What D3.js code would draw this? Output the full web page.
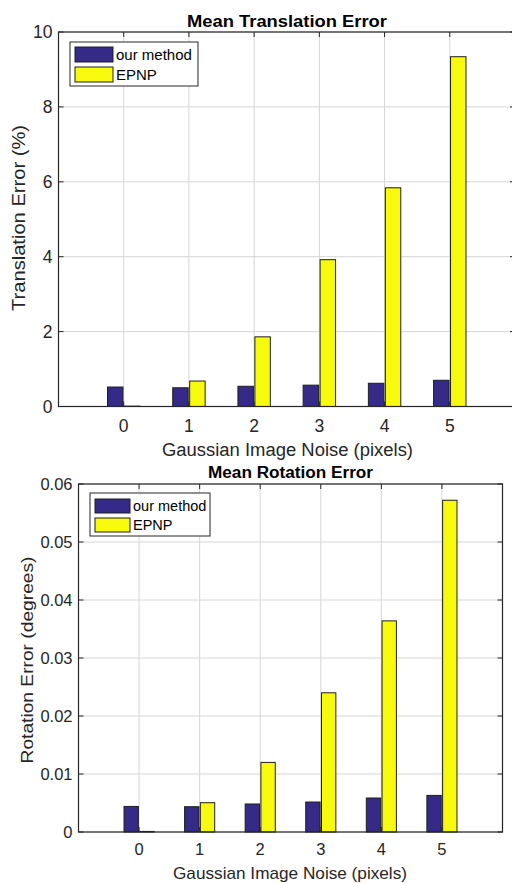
<!DOCTYPE html>
<html><head><meta charset="utf-8">
<script src="https://cdn.jsdelivr.net/npm/d3@7"></script>
<style>body{margin:0;background:#fff}svg{display:block}text{font-family:"Liberation Sans",Arial,sans-serif;fill:#262626}</style>
</head><body>
<svg id="c" width="512" height="883"></svg>
<script>
const categories = [0, 1, 2, 3, 4, 5];
const seriesNames = ["our method", "EPNP"];
const transOurs = [0.52, 0.50, 0.54, 0.57, 0.62, 0.70];
const transEpnp = [0.01, 0.68, 1.86, 3.92, 5.84, 9.34];
const rotOurs = [0.00441, 0.00436, 0.00483, 0.00517, 0.00586, 0.00631];
const rotEpnp = [0.0001, 0.00505, 0.0120, 0.0240, 0.0364, 0.0572];
const transTicks = [0, 2, 4, 6, 8, 10];
const rotTicks = [0, 0.01, 0.02, 0.03, 0.04, 0.05, 0.06];
const colors = ["#352a87", "#f8fa0d"];

const svg = d3.select("#c");

function drawChart(o) {
  const g = svg.append("g");
  const x = d3.scaleLinear().domain([-1, 6]).range([o.x0, o.x1]);
  const y = d3.scaleLinear().domain([0, o.ymax]).range([o.y0, o.y1]);
  // grid
  g.selectAll(".vg").data(categories).enter().append("line")
    .attr("x1", d => x(d)).attr("x2", d => x(d)).attr("y1", o.y0).attr("y2", o.y1)
    .attr("stroke", "#d6d6d6").attr("stroke-width", 1);
  g.selectAll(".hg").data(o.ticks).enter().append("line")
    .attr("x1", o.x0).attr("x2", o.x1).attr("y1", d => y(d)).attr("y2", d => y(d))
    .attr("stroke", "#d6d6d6").attr("stroke-width", 1);
  // bars
  const unit = x(1) - x(0);
  const bw = o.bw * unit, off = o.off * unit;
  [o.s1, o.s2].forEach((vals, si) => {
    g.selectAll(".b" + si).data(vals).enter().append("rect")
      .attr("x", (d, i) => x(categories[i]) + (si === 0 ? -off - bw / 2 : off - bw / 2))
      .attr("width", bw)
      .attr("y", d => y(d))
      .attr("height", d => y(0) - y(d))
      .attr("fill", colors[si]).attr("stroke", "#1e1e1e").attr("stroke-width", 1);
  });
  // box
  g.append("rect").attr("x", o.x0).attr("y", o.y1).attr("width", o.x1 - o.x0).attr("height", o.y0 - o.y1)
    .attr("fill", "none").attr("stroke", "#262626").attr("stroke-width", 1.2);
  // ticks inward
  const tl = 5;
  o.ticks.forEach(t => {
    g.append("line").attr("x1", o.x0).attr("x2", o.x0 + tl).attr("y1", y(t)).attr("y2", y(t)).attr("stroke", "#262626");
    g.append("line").attr("x1", o.x1).attr("x2", o.x1 - tl).attr("y1", y(t)).attr("y2", y(t)).attr("stroke", "#262626");
  });
  categories.forEach(c => {
    g.append("line").attr("x1", x(c)).attr("x2", x(c)).attr("y1", o.y1).attr("y2", o.y1 + tl).attr("stroke", "#262626");
    g.append("line").attr("x1", x(c)).attr("x2", x(c)).attr("y1", o.y0).attr("y2", o.y0 - tl).attr("stroke", "#262626");
  });
  // tick labels
  g.selectAll(".yl").data(o.ticks).enter().append("text")
    .attr("x", o.x0 - 6).attr("y", d => y(d)).attr("dy", "0.36em").attr("text-anchor", "end")
    .style("font-size", o.tickFs + "px").text(d => o.fmt(d));
  g.selectAll(".xl").data(categories).enter().append("text")
    .attr("x", d => x(d)).attr("y", o.y0 + o.xtickDy).attr("text-anchor", "middle")
    .style("font-size", o.tickFs + "px").text(d => d);
  // labels
  g.append("text").attr("x", o.titleX).attr("y", o.titleY).attr("text-anchor", "middle")
    .attr("textLength", o.titleW).attr("lengthAdjust", "spacingAndGlyphs")
    .style("font-size", o.titleFs + "px").style("font-weight", "bold").style("fill", "#000").text(o.title);
  g.append("text").attr("x", o.xlabX).attr("y", o.xlabY).attr("text-anchor", "middle")
    .attr("textLength", o.xlabW).attr("lengthAdjust", "spacingAndGlyphs")
    .style("font-size", o.labFs + "px").text(o.xlabel);
  g.append("text").attr("transform", `translate(${o.ylabX},${o.ylabY}) rotate(-90)`)
    .attr("textLength", o.ylabW).attr("lengthAdjust", "spacingAndGlyphs")
    .attr("text-anchor", "middle").style("font-size", o.labFs + "px").text(o.ylabel);
  // legend
  const L = o.leg;
  g.append("rect").attr("x", L.x).attr("y", L.y).attr("width", L.w).attr("height", L.h)
    .attr("fill", "#fff").attr("stroke", "#262626").attr("stroke-width", 1);
  seriesNames.forEach((n, i) => {
    const sy = L.y + L.top + i * L.pitch;
    g.append("rect").attr("x", L.x + 5).attr("y", sy).attr("width", L.sw).attr("height", L.sh)
      .attr("fill", colors[i]).attr("stroke", "#1e1e1e");
    g.append("text").attr("x", L.x + 8 + L.sw).attr("y", sy + L.sh / 2).attr("dy", "0.36em")
      .style("font-size", L.fs + "px").style("fill", "#000").text(n);
  });
}

drawChart({
  x0: 58.5, x1: 515, y0: 406.5, y1: 32, ymax: 10, ticks: transTicks,
  s1: transOurs, s2: transEpnp, bw: 0.237, off: 0.13,
  fmt: d => d, tickFs: 17.5, xtickDy: 25.5, titleFs: 17, labFs: 18,
  title: "Mean Translation Error", titleX: 287, titleY: 26.5, titleW: 200,
  xlabel: "Gaussian Image Noise (pixels)", xlabX: 287.5, xlabY: 455.5, xlabW: 251,
  ylabel: "Translation Error (%)", ylabX: 25, ylabY: 218, ylabW: 186,
  leg: { x: 70, y: 42, w: 128, h: 44, top: 5, pitch: 20, sh: 15, sw: 38, fs: 15 }
});
drawChart({
  x0: 78.5, x1: 502.5, y0: 832, y1: 484, ymax: 0.06, ticks: rotTicks,
  s1: rotOurs, s2: rotEpnp, bw: 0.237, off: 0.13,
  fmt: d => d === 0 ? "0" : d3.format(".2f")(d), tickFs: 16.5, xtickDy: 23, titleFs: 16, labFs: 17,
  title: "Mean Rotation Error", titleX: 290.5, titleY: 478, titleW: 165,
  xlabel: "Gaussian Image Noise (pixels)", xlabX: 290, xlabY: 879, xlabW: 234,
  ylabel: "Rotation Error (degrees)", ylabX: 33, ylabY: 660, ylabW: 207,
  leg: { x: 90, y: 493, w: 120, h: 43, top: 6, pitch: 19, sh: 14, sw: 35, fs: 14.5 }
});
</script>
</body></html>
